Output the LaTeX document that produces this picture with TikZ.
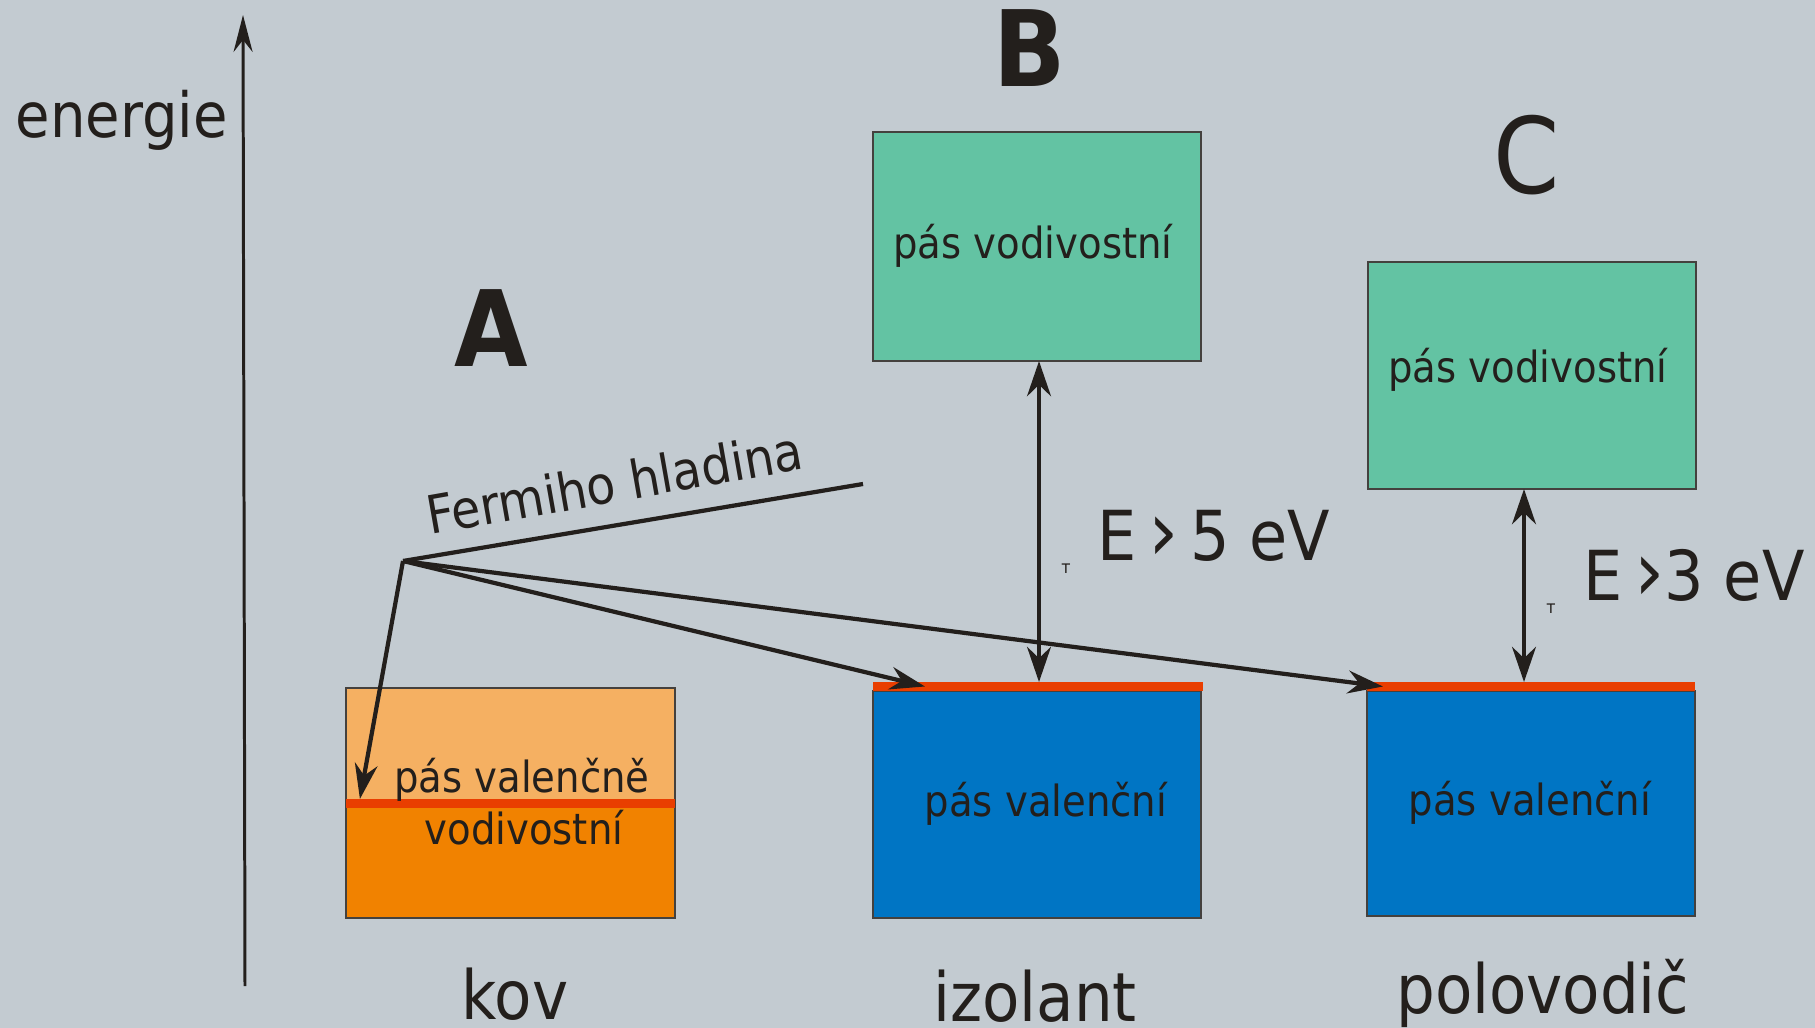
\documentclass[tikz,border=0pt]{standalone}
\usepackage{fontspec}
\setmainfont{DejaVu Sans Condensed}
\usetikzlibrary{arrows.meta}

\definecolor{pozadi}{RGB}{195,203,209}
\definecolor{zelena}{RGB}{99,195,163}
\definecolor{modra}{RGB}{0,117,196}
\definecolor{oranzsv}{RGB}{245,176,98}
\definecolor{oranz}{RGB}{241,130,0}
\definecolor{cervena}{RGB}{233,62,0}
\definecolor{inkoust}{RGB}{35,31,28}

\tikzset{
	pas/.style={draw=inkoust!85,line width=0.4pt,inner sep=0pt,outer sep=0pt,minimum width=3.28cm},
	hladina/.style={fill=cervena,inner sep=0pt,outer sep=0pt,minimum height=0.09cm},
	popis/.style={text=inkoust,inner sep=0pt,anchor=base,font=\fontsize{12.2}{14}\selectfont},
	nazev/.style={text=inkoust,inner sep=0pt,anchor=base,font=\fontsize{19.3}{22}\selectfont},
	pismeno/.style={text=inkoust,inner sep=0pt,anchor=base,font=\fontsize{30}{34}\selectfont},
	mez/.style={text=inkoust,inner sep=0pt,anchor=base west,font=\fontsize{19.6}{24}\selectfont},
	drobne/.style={text=inkoust,inner sep=0pt,font=\fontsize{5}{6}\selectfont},
	osa/.style={draw=inkoust,line width=0.85pt,-{Stealth[length=10.5pt,width=5.4pt]}},
	dvoj/.style={draw=inkoust,line width=1.1pt,{Stealth[length=10pt,width=6.8pt]}-{Stealth[length=10pt,width=6.8pt]}},
	fermi/.style={draw=inkoust,line width=1.2pt},
	fsipka/.style={fermi,-{Stealth[length=10pt,width=6.5pt]}}
}

\begin{document}
\begin{tikzpicture}[x=0.01cm,y=-0.01cm]
	\fill[pozadi] (0,0) rectangle (1815,1028);
	\useasboundingbox (0,0) rectangle (1815,1028);
	% osa energie
	\coordinate (osa0) at (245,986);
	\coordinate (osa1) at (243,15);
	\draw[osa] (osa0) -- (osa1);
	\node[nazev,anchor=base west,font=\fontsize{17.7}{21}\selectfont] (energie) at (15,138) {energie};

	% A - kov
	\node[pas,fill=oranzsv,minimum width=3.29cm,minimum height=2.30cm] (kov) at (510.5,803) {};
	\node[pas,fill=oranz,minimum width=3.29cm,minimum height=1.15cm,anchor=north] (kovdole) at (510.5,803) {};
	\node[hladina,minimum width=3.29cm] (kovF) at (510.5,803.5) {};
	\node[popis] (kovtxt1) at (522,793) {pás valenčně};
	\node[popis] (kovtxt2) at (524,844) {vodivostní};
	\node[pismeno,font=\fontsize{30}{34}\selectfont\bfseries] (lA) at (491,367) {A};
	\node[nazev] (lkov) at (515,1019) {kov};

	% B - izolant
	\node[pas,fill=zelena,minimum height=2.29cm] (Bvod) at (1037,246.5) {};
	\node[popis] (Bvodtxt) at (1033,259) {pás vodivostní};
	\node[pas,fill=modra,minimum height=2.27cm] (Bval) at (1037,804.5) {};
	\node[hladina,minimum width=3.30cm] (BF) at (1038,686.5) {};
	\node[popis] (Bvaltxt) at (1046,817) {pás valenční};
	\node[pismeno,font=\fontsize{30}{34}\selectfont\bfseries] (lB) at (1030,87) {B};
	\node[nazev] (lizol) at (1035,1021) {izolant};
	\draw[dvoj] ([xshift=0.02cm]Bvod.south) -- ([xshift=0.01cm]BF.north);
	\node[mez] (Bmez) at (1097,561) {E\,{\fontsize{24}{24}\selectfont ›}\,5 eV};
	\node[drobne] (Bt) at (1066,569) {т};

	% C - polovodic
	\node[pas,fill=zelena,minimum height=2.27cm] (Cvod) at (1532,375.5) {};
	\node[popis] (Cvodtxt) at (1528,383) {pás vodivostní};
	\node[pas,fill=modra,minimum height=2.25cm] (Cval) at (1531,803.5) {};
	\node[hladina,minimum width=3.28cm] (CF) at (1531,686.5) {};
	\node[popis] (Cvaltxt) at (1530,816) {pás valenční};
	\node[pismeno] (lC) at (1527,194) {C};
	\node[nazev] (lpolo) at (1543,1013) {polovodič};
	\draw[dvoj] ([xshift=-0.08cm]Cvod.south) -- ([xshift=-0.07cm]CF.north);
	\node[mez] (Cmez) at (1583,601) {E\,{\fontsize{24}{24}\selectfont ›}3 eV};
	\node[drobne] (Ct) at (1551,609) {т};

	% Fermiho hladina
	\coordinate (F) at (403,561);
	\coordinate (Fkonec) at (863,484);
	\draw[fermi] (F) -- (Fkonec);
	\node[text=inkoust,inner sep=0pt,anchor=base west,rotate=10,font=\fontsize{15}{18}\selectfont] (Ftxt) at (430,535) {Fermiho hladina};
	\draw[fsipka] (F) -- ([xshift=0.14cm]kovF.north west);
	\draw[fsipka] (F) -- ([xshift=0.52cm]BF.west);
	\draw[fsipka] (F) -- ([xshift=0.16cm]CF.west);
\end{tikzpicture}
\end{document}
